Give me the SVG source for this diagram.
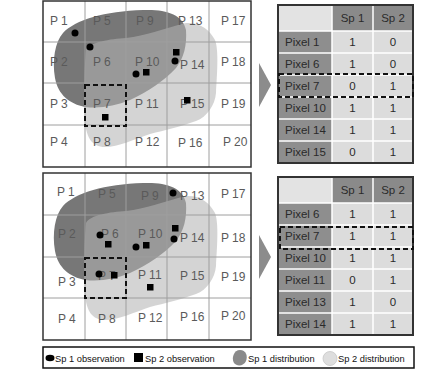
<svg xmlns="http://www.w3.org/2000/svg" width="439" height="373" viewBox="0 0 439 373">
<style>
.lbl{font-family:"Liberation Sans",Arial,sans-serif;font-size:12px;fill:#5a5a5a}
.tt{font-family:"Liberation Sans",Arial,sans-serif;font-size:11.5px;fill:#2a2a2a}
.tc{text-anchor:middle}
.gl{stroke:#9e9e9e;stroke-width:1;fill:none}
.gb{stroke:#333;stroke-width:1.5;fill:none}
.dk{fill:#5f5f5f;opacity:0.85}
.lt{fill:#b3b3b3;opacity:0.57}
.dash{fill:none;stroke:#111;stroke-width:2;stroke-dasharray:5,3}
.hd{fill:#8a8a8a}
.fc{fill:#8e8e8e}
.dc{fill:#dcdcdc}
.sep{stroke:#fff;stroke-width:1.5}
.lg{font-family:"Liberation Sans",Arial,sans-serif;font-size:9.3px;fill:#111}
</style>
<defs>
<path id="dkb" d="M143,10 C165,9 183,14 186,30 C187,45 184,58 176,68 C165,80 148,92 130,100 C115,106 100,109 85,107 C70,104 58,95 55,78 C52,60 55,42 63,33 C75,20 105,11 143,10 Z"/>
<path id="ltb" d="M86,50 C90,42 110,39 126,38 C145,36 165,28 186,23 C200,22 210,30 215,40 C219,50 217,75 216,93 C215,105 207,117 196,121 C180,127 165,130 150,134 C135,139 118,147 105,147 C92,147 87,138 85,123 C84,105 84,70 86,50 Z"/>
</defs>

<g id="grid-top">
<rect x="43" y="1" width="208" height="166" fill="#fff"/>
<use href="#dkb" class="dk"/>
<use href="#ltb" class="lt"/>
<path class="gl" d="M85,1V167M126,1V167M167,1V167M209,1V167M43,42H251M43,83H251M43,125H251"/>
<g class="lbl">
<text x="50" y="25">P 1</text><text x="50" y="66">P 2</text><text x="50" y="108">P 3</text><text x="50" y="146">P 4</text>
<text x="93" y="25">P 5</text><text x="93" y="66">P 6</text><text x="93" y="108">P 7</text><text x="93" y="146">P 8</text>
<text x="136" y="25">P 9</text><text x="135" y="66">P 10</text><text x="135" y="108">P 11</text><text x="135" y="146">P 12</text>
<text x="178" y="25">P 13</text><text x="180" y="69">P 14</text><text x="180" y="108">P 15</text><text x="178" y="147">P 16</text>
<text x="221" y="25">P 17</text><text x="221" y="66">P 18</text><text x="221" y="108">P 19</text><text x="223" y="146">P 20</text>
</g>
<rect class="gb" x="43" y="1" width="208" height="166"/>
<g fill="#000">
<circle cx="75" cy="33" r="3.5"/><circle cx="90" cy="47" r="3.5"/><circle cx="136" cy="74" r="3.5"/><circle cx="175" cy="61" r="3.5"/>
<rect x="143" y="69" width="6.5" height="6.5"/><rect x="173" y="49" width="6.5" height="6.5"/><rect x="184" y="97" width="6.5" height="6.5"/><rect x="102" y="114" width="6.5" height="6.5"/>
</g>
<rect class="dash" x="85" y="85" width="41" height="41"/>
</g>

<g id="grid-bottom">
<rect x="43" y="173" width="208" height="167" fill="#fff"/>
<use href="#dkb" class="dk" transform="translate(0,173)"/>
<use href="#ltb" class="lt" transform="translate(0,173)"/>
<path class="gl" d="M85,173V340M126,173V340M167,173V340M209,173V340M43,215H251M43,257H251M43,298H251"/>
<g class="lbl">
<text x="57" y="196">P 1</text><text x="58" y="238">P 2</text><text x="58" y="286">P 3</text><text x="58" y="323">P 4</text>
<text x="98" y="198">P 5</text><text x="101" y="238">P 6</text><text x="98" y="280">P 7</text><text x="98" y="323">P 8</text>
<text x="141" y="200">P 9</text><text x="138" y="238">P 10</text><text x="138" y="279">P 11</text><text x="138" y="322">P 12</text>
<text x="180" y="200">P 13</text><text x="180" y="242">P 14</text><text x="180" y="280">P 15</text><text x="180" y="321">P 16</text>
<text x="221" y="198">P 17</text><text x="221" y="242">P 18</text><text x="221" y="281">P 19</text><text x="221" y="320">P 20</text>
</g>
<rect class="gb" x="43" y="173" width="208" height="167"/>
<g fill="#000">
<circle cx="173" cy="193" r="3.5"/><circle cx="100" cy="235" r="3.5"/><circle cx="136" cy="247" r="3.5"/><circle cx="174" cy="239" r="3.5"/><circle cx="99" cy="274" r="3.5"/>
<rect x="105" y="241" width="6.5" height="6.5"/><rect x="143" y="242" width="6.5" height="6.5"/><rect x="172" y="225" width="6.5" height="6.5"/><rect x="111" y="272" width="6.5" height="6.5"/><rect x="147" y="284" width="6.5" height="6.5"/>
</g>
<rect class="dash" x="85" y="258" width="41" height="40"/>
</g>

<g id="connectors">
<polygon points="259,63 271,85 259,107" fill="#8c8c8c"/>
<polygon points="259,235 271,257 259,279" fill="#8c8c8c"/>
</g>

<g id="table-top">
<rect x="278" y="5" width="54" height="26" fill="#e3e3e3"/>
<rect class="hd" x="332" y="5" width="81" height="26"/>
<rect class="fc" x="278" y="31" width="54" height="132"/>
<rect class="dc" x="332" y="31" width="81" height="132"/>
<path class="sep" d="M332,5V163M373,5V163M278,31H413M278,53H413M278,75H413M278,97H413M278,119H413M278,141H413"/>
<rect x="278" y="5" width="135" height="158" fill="none" stroke="#333" stroke-width="2"/>
<g class="tt">
<text class="tc" x="352.5" y="22">Sp 1</text><text class="tc" x="393" y="22">Sp 2</text>
<text x="285" y="46">Pixel 1</text><text class="tc" x="352.5" y="46">1</text><text class="tc" x="393" y="46">0</text>
<text x="285" y="68">Pixel 6</text><text class="tc" x="352.5" y="68">1</text><text class="tc" x="393" y="68">0</text>
<text x="285" y="90">Pixel 7</text><text class="tc" x="352.5" y="90">0</text><text class="tc" x="393" y="90">1</text>
<text x="285" y="112">Pixel 10</text><text class="tc" x="352.5" y="112">1</text><text class="tc" x="393" y="112">1</text>
<text x="285" y="134">Pixel 14</text><text class="tc" x="352.5" y="134">1</text><text class="tc" x="393" y="134">1</text>
<text x="285" y="156">Pixel 15</text><text class="tc" x="352.5" y="156">0</text><text class="tc" x="393" y="156">1</text>
</g>
<rect class="dash" x="279" y="74" width="134" height="23"/>
</g>

<g id="table-bottom">
<rect x="278" y="177" width="54" height="26" fill="#e3e3e3"/>
<rect class="hd" x="332" y="177" width="81" height="26"/>
<rect class="fc" x="278" y="203" width="54" height="132"/>
<rect class="dc" x="332" y="203" width="81" height="132"/>
<path class="sep" d="M332,177V335M373,177V335M278,203H413M278,225H413M278,247H413M278,269H413M278,291H413M278,313H413"/>
<rect x="278" y="177" width="135" height="158" fill="none" stroke="#333" stroke-width="2"/>
<g class="tt">
<text class="tc" x="352.5" y="194">Sp 1</text><text class="tc" x="393" y="194">Sp 2</text>
<text x="285" y="218">Pixel 6</text><text class="tc" x="352.5" y="218">1</text><text class="tc" x="393" y="218">1</text>
<text x="285" y="240">Pixel 7</text><text class="tc" x="352.5" y="240">1</text><text class="tc" x="393" y="240">1</text>
<text x="285" y="262">Pixel 10</text><text class="tc" x="352.5" y="262">1</text><text class="tc" x="393" y="262">1</text>
<text x="285" y="284">Pixel 11</text><text class="tc" x="352.5" y="284">0</text><text class="tc" x="393" y="284">1</text>
<text x="285" y="306">Pixel 13</text><text class="tc" x="352.5" y="306">1</text><text class="tc" x="393" y="306">0</text>
<text x="285" y="328">Pixel 14</text><text class="tc" x="352.5" y="328">1</text><text class="tc" x="393" y="328">1</text>
</g>
<rect class="dash" x="280" y="227" width="133" height="22"/>
</g>

<g id="legend">
<rect x="43" y="347" width="371" height="21" fill="#fff" stroke="#111" stroke-width="1.5"/>
<ellipse cx="50" cy="358" rx="4.5" ry="3.3" fill="#000"/>
<text class="lg" x="55" y="361.5">Sp 1 observation</text>
<rect x="134" y="353" width="9" height="9" fill="#000"/>
<text class="lg" x="145" y="361.5">Sp 2 observation</text>
<path d="M240,350 C246,350 248,356 246,361 C244,366 237,367 234,363 C231,358 234,350 240,350 Z" fill="#8a8a8a"/>
<text class="lg" x="248" y="361.5">Sp 1 distribution</text>
<circle cx="330" cy="358.5" r="7" fill="#dedede" stroke="#c8c8c8" stroke-width="0.8"/>
<text class="lg" x="338" y="361.5">Sp 2 distribution</text>
</g>
</svg>
